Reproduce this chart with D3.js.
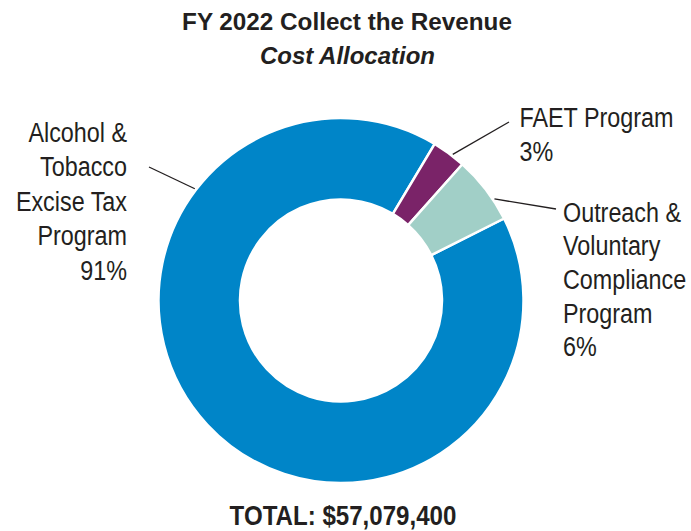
<!DOCTYPE html>
<html>
<head>
<meta charset="utf-8">
<script src="https://cdn.jsdelivr.net/npm/d3@7"></script>
<style>
  html, body { margin: 0; padding: 0; background: #fff; }
  svg { display: block; }
  text { font-family: "Liberation Sans", Arial, sans-serif; fill: #231f20; }
</style>
</head>
<body>
<svg id="chart" width="691" height="531"></svg>
<script>
// Cost allocation shares (percent of total)
const categories = ["Alcohol & Tobacco Excise Tax Program", "FAET Program", "Outreach & Voluntary Compliance Program"];
const shares = [91, 3, 6];
const colors = ["#0085c8", "#7a2368", "#a1cfc7"];
const labelLines = [
  ["Alcohol &", "Tobacco", "Excise Tax", "Program", "91%"],
  ["FAET Program", "3%"],
  ["Outreach &", "Voluntary", "Compliance", "Program", "6%"]
];
const titleLines = ["FY 2022 Collect the Revenue", "Cost Allocation"];
const totalLabel = "TOTAL: $57,079,400";

const svg = d3.select("#chart");
const cx = 341, cy = 300.5, outerR = 182.5, innerR = 101;

// Narrow a text horizontally about its anchor x so it spans `width` px
function condenseTo(sel, x, width) {
  const w = sel.node().getComputedTextLength();
  const k = width / w;
  sel.attr("transform", `translate(${x},0) scale(${k},1) translate(${-x},0)`);
  return k;
}

// Title
const t1 = svg.append("text").attr("x", 347).attr("y", 30.5).attr("text-anchor", "middle")
  .attr("font-size", 24).attr("font-weight", "bold").text(titleLines[0]);
condenseTo(t1, 347, 330);
const t2 = svg.append("text").attr("x", 347.5).attr("y", 64.5).attr("text-anchor", "middle")
  .attr("font-size", 24).attr("font-weight", "bold").attr("font-style", "italic").text(titleLines[1]);
condenseTo(t2, 347.5, 175);

// Donut
const startA = 63.3 * Math.PI / 180;
const pie = d3.pie().sort(null).startAngle(startA).endAngle(startA + 2 * Math.PI);
const arcs = pie(shares);
const arc = d3.arc().innerRadius(innerR).outerRadius(outerR);

const g = svg.append("g").attr("transform", `translate(${cx},${cy})`);
g.selectAll("path").data(arcs).join("path")
  .attr("d", arc)
  .attr("fill", (d, i) => colors[i])
  .attr("stroke", "#fff")
  .attr("stroke-width", 2.5)
  .attr("stroke-linejoin", "round");

// Leader lines (from just outside the ring out toward each label)
const leaders = [
  { angle: -52.6, x1: 149, y1: 167 },
  { angle: 37.4, x1: 509, y1: 122 },
  { angle: 56.5, x1: 556, y1: 209 }
];
const r0 = outerR + 1.5;
leaders.forEach(l => {
  const a = l.angle * Math.PI / 180;
  svg.append("line")
    .attr("x1", cx + r0 * Math.sin(a)).attr("y1", cy - r0 * Math.cos(a))
    .attr("x2", l.x1).attr("y2", l.y1)
    .attr("stroke", "#231f20").attr("stroke-width", 1.3);
});

// Horizontal scale for label text, set so "FAET Program" spans 154 px
const probe = svg.append("text").attr("font-size", 28).text(labelLines[1][0]);
const labelK = 154 / probe.node().getComputedTextLength();
probe.remove();

// Category labels
const labelPos = [
  { x: 127, y: 141.7, anchor: "end", lh: 34.6 },
  { x: 519.5, y: 127.5, anchor: "start", lh: 33.7 },
  { x: 563, y: 221.7, anchor: "start", lh: 33.7 }
];
labelLines.forEach((lines, i) => {
  const p = labelPos[i];
  const t = svg.append("text").attr("text-anchor", p.anchor).attr("font-size", 28)
    .attr("transform", `translate(${p.x},0) scale(${labelK},1) translate(${-p.x},0)`);
  lines.forEach((s, j) => {
    t.append("tspan").attr("x", p.x).attr("y", p.y + j * p.lh).text(s);
  });
});

// Total
const tt = svg.append("text").attr("x", 343).attr("y", 525.5).attr("text-anchor", "middle")
  .attr("font-size", 28.5).attr("font-weight", "bold").text(totalLabel);
condenseTo(tt, 343, 227);
</script>
</body>
</html>
